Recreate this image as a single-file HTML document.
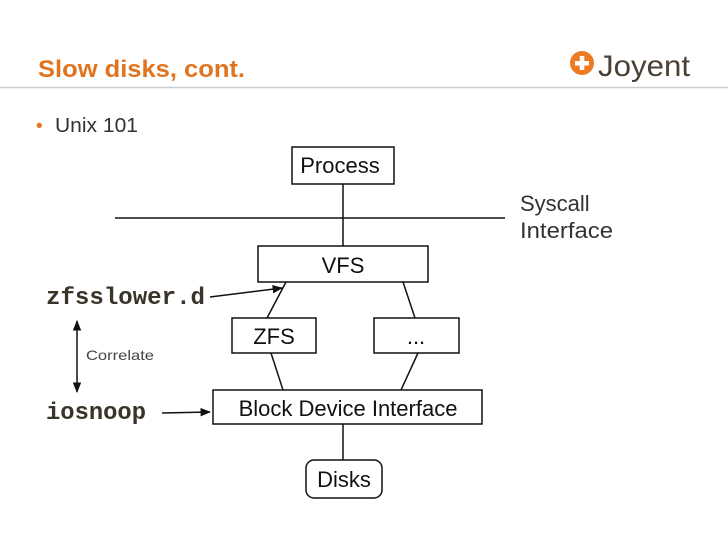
<!DOCTYPE html>
<html><head><style>
body{margin:0;width:728px;height:546px;background:#fff;overflow:hidden;font-family:"Liberation Sans",sans-serif}
</style></head><body>
<svg width="728" height="546" viewBox="0 0 728 546" xmlns="http://www.w3.org/2000/svg">
<defs><marker id="a" viewBox="0 0 10 10" refX="9" refY="5" markerWidth="7" markerHeight="7" orient="auto-start-reverse"><path d="M0,1 L10,5 L0,9 z" fill="#111"/></marker></defs>
<text x="38" y="77" font-family="Liberation Sans" font-weight="bold" font-size="24" fill="#e07420" textLength="207" lengthAdjust="spacingAndGlyphs">Slow disks, cont.</text>
<circle cx="582" cy="63" r="12" fill="#ee7a22"/>
<rect x="575" y="61" width="14" height="4.5" fill="#fff"/><rect x="579.8" y="56" width="4.5" height="14" fill="#fff"/>
<text x="598" y="76" font-family="Liberation Sans" font-size="30" fill="#4a4035" textLength="92" lengthAdjust="spacingAndGlyphs">Joyent</text>
<line x1="0" y1="87.5" x2="728" y2="87.5" stroke="#ccc" stroke-width="1.5"/>
<text x="36" y="132" font-size="19" fill="#e07420">•</text>
<text x="55" y="132" font-size="20" fill="#333" textLength="83" lengthAdjust="spacingAndGlyphs">Unix 101</text>
<g stroke="#111" stroke-width="1.5" fill="none">
<rect x="292" y="147" width="102" height="37" fill="#fff"/>
<line x1="115" y1="218" x2="505" y2="218"/>
<line x1="343" y1="184" x2="343" y2="246"/>
<rect x="258" y="246" width="170" height="36"/>
<rect x="232" y="318" width="84" height="35"/>
<rect x="374" y="318" width="85" height="35"/>
<rect x="213" y="390" width="269" height="34"/>
<rect x="306" y="460" width="76" height="38" rx="8"/>
<line x1="286" y1="282" x2="267" y2="318"/>
<line x1="403" y1="282" x2="415" y2="318"/>
<line x1="271" y1="353" x2="283" y2="390"/>
<line x1="418" y1="353" x2="401" y2="390"/>
<line x1="343" y1="424" x2="343" y2="460"/>
<line x1="210" y1="297" x2="282" y2="288" marker-end="url(#a)"/>
<line x1="162" y1="413" x2="210" y2="412" marker-end="url(#a)"/>
<line x1="77" y1="321" x2="77" y2="392" marker-start="url(#a)" marker-end="url(#a)"/>
</g>
<g font-size="22" fill="#111" text-anchor="middle">
<text x="340" y="173">Process</text>
<text x="343" y="273">VFS</text>
<text x="274" y="344">ZFS</text>
<text x="416" y="344">...</text>
<text x="348" y="416">Block Device Interface</text>
<text x="344" y="487">Disks</text>
</g>
<text x="520" y="211" font-size="22" fill="#333">Syscall</text>
<text x="520" y="238" font-size="22" fill="#333" textLength="93" lengthAdjust="spacingAndGlyphs">Interface</text>
<text x="46" y="304" font-family="Liberation Mono" font-weight="bold" font-size="24" fill="#3a3428" textLength="159" lengthAdjust="spacingAndGlyphs">zfsslower.d</text>
<text x="46" y="419" font-family="Liberation Mono" font-weight="bold" font-size="24" fill="#3a3428" textLength="100" lengthAdjust="spacingAndGlyphs">iosnoop</text>
<text x="86" y="360" font-size="14" fill="#444" textLength="68" lengthAdjust="spacingAndGlyphs">Correlate</text>
</svg>
</body></html>
